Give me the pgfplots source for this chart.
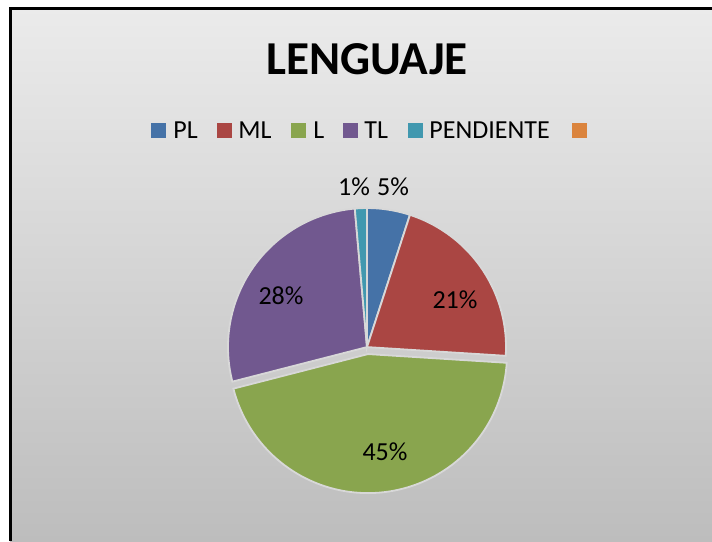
\documentclass[border=0pt]{standalone}
\usepackage{pgfplots}
\pgfplotsset{compat=1.18}
\usepackage{fontspec}
\setmainfont{Carlito}

\definecolor{cPL}{HTML}{4572A7}
\definecolor{cML}{HTML}{AA4643}
\definecolor{cL}{HTML}{89A54E}
\definecolor{cTL}{HTML}{71588F}
\definecolor{cPEN}{HTML}{4198AF}
\definecolor{cOR}{HTML}{DB843D}
\definecolor{bgtop}{HTML}{EBEBEB}
\definecolor{bgbot}{HTML}{BDBDBD}
\definecolor{gap}{HTML}{D8D8D8}

% pie geometry in image pixels (y up)
\def\cx{367}
\def\cy{194}
\def\rr{139}
\newcommand{\lbl}{\fontsize{13pt}{15pt}\selectfont}

\begin{document}
\begin{tikzpicture}
\begin{axis}[
  scale only axis, width=356pt, height=270.5pt,
  xmin=0, xmax=712, ymin=0, ymax=541,
  hide axis, clip=true,
  every axis plot/.append style={no markers, samples=80, line width=0.9pt, draw=gap},
]
% background
\fill[white] (axis cs:0,0) rectangle (axis cs:712,541);
\shade[top color=bgtop, bottom color=bgbot] (axis cs:10,0) rectangle (axis cs:712,533);
\draw[black, line width=1.1pt] (axis cs:10.5,0) -- (axis cs:10.5,532.5) -- (axis cs:712,532.5);

% slices: domain = cumulative percentages (PL 5, ML 21, L 45, TL 27.6, PENDIENTE 1.4)
\addplot[fill=cPL, domain=0:5]
  ({\cx+\rr*sin(3.6*x)}, {\cy+\rr*cos(3.6*x)}) -- (axis cs:\cx,\cy) -- cycle;
\addplot[fill=cML, domain=5:26]
  ({\cx+\rr*sin(3.6*x)}, {\cy+\rr*cos(3.6*x)}) -- (axis cs:\cx,\cy) -- cycle;
\addplot[fill=cL, domain=26:71]
  ({\cx+1+\rr*sin(3.6*x)}, {\cy-7+\rr*cos(3.6*x)}) -- (axis cs:\cx+1,\cy-7) -- cycle;
\addplot[fill=cTL, domain=71:98.6]
  ({\cx+\rr*sin(3.6*x)}, {\cy+\rr*cos(3.6*x)}) -- (axis cs:\cx,\cy) -- cycle;
\addplot[fill=cPEN, domain=98.6:100]
  ({\cx+\rr*sin(3.6*x)}, {\cy+\rr*cos(3.6*x)}) -- (axis cs:\cx,\cy) -- cycle;

% data labels
\node[font=\lbl] at (axis cs:354,354) {1\%};
\node[font=\lbl] at (axis cs:393,354) {5\%};
\node[font=\lbl] at (axis cs:455,241) {21\%};
\node[font=\lbl] at (axis cs:281,245) {28\%};
\node[font=\lbl] at (axis cs:385,89) {45\%};

% title
\node[font=\bfseries\fontsize{23.6pt}{27pt}\selectfont] at (axis cs:367,482) {LENGUAJE};

% legend
\fill[cPL]  (axis cs:151,403) rectangle (axis cs:166,418);
\node[anchor=base west, font=\lbl, inner sep=0pt] at (axis cs:173,403) {PL};
\fill[cML]  (axis cs:217,403) rectangle (axis cs:232,418);
\node[anchor=base west, font=\lbl, inner sep=0pt] at (axis cs:238,403) {ML};
\fill[cL]   (axis cs:291,403) rectangle (axis cs:306,418);
\node[anchor=base west, font=\lbl, inner sep=0pt] at (axis cs:313,403) {L};
\fill[cTL]  (axis cs:343,403) rectangle (axis cs:358,418);
\node[anchor=base west, font=\lbl, inner sep=0pt] at (axis cs:364,403) {TL};
\fill[cPEN] (axis cs:408,403) rectangle (axis cs:423,418);
\node[anchor=base west, font=\lbl, inner sep=0pt] at (axis cs:429,403) {PENDIENTE};
\fill[cOR]  (axis cs:572,403) rectangle (axis cs:587,418);
\end{axis}
\end{tikzpicture}
\end{document}
